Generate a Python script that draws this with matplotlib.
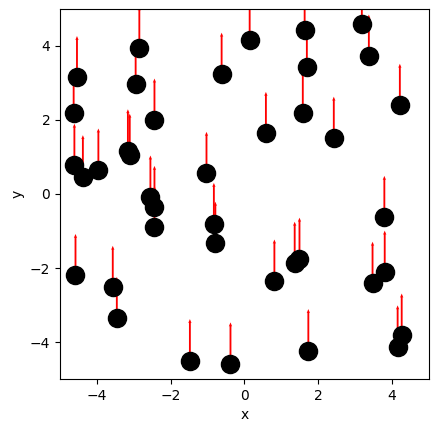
import numpy as np
import matplotlib
matplotlib.use("Agg")
import matplotlib.pyplot as plt

# point positions
x_pts = [-4.54, -4.63, -2.85, -2.95, -2.44, -4.61, -4.38, -3.96, -3.16, -3.11,
         -2.55, -2.44, -2.44, -1.03, -0.62, 0.14, 1.63, 1.69, 3.18, 3.37,
         1.58, 0.58, 2.42, 4.21, -0.83, -0.79, -4.58, -3.57, -3.46, -1.48,
         -0.38, 3.79, 0.81, 1.36, 1.49, 3.47, 3.80, 1.73, 4.15, 4.26]
y_pts = [3.15, 2.20, 3.95, 2.96, 2.00, 0.78, 0.47, 0.65, 1.17, 1.05,
         -0.08, -0.36, -0.90, 0.56, 3.24, 4.15, 4.43, 3.42, 4.59, 3.73,
         2.18, 1.64, 1.51, 2.40, -0.82, -1.33, -2.20, -2.52, -3.36, -4.50,
         -4.59, -0.63, -2.35, -1.87, -1.76, -2.41, -2.11, -4.23, -4.13, -3.81]
# every arrow points straight up
u_vals = [0.0] * len(x_pts)
v_vals = [1.12] * len(x_pts)

fig = plt.figure(figsize=(4.39, 4.32), dpi=100)
ax = fig.add_axes([60 / 439, 53 / 432, 369 / 439, 370 / 432])

ax.quiver(x_pts, y_pts, u_vals, v_vals, angles="xy", scale_units="xy", scale=1,
          color="r", width=0.005, headwidth=1.8, headlength=2.2,
          headaxislength=2.0, zorder=2)
ax.scatter(x_pts, y_pts, s=170, c="k", zorder=3)

ax.set_xlim(-5, 5)
ax.set_ylim(-5, 5)
ax.set_xticks([-4, -2, 0, 2, 4])
ax.set_yticks([-4, -2, 0, 2, 4])
ax.set_xlabel("x")
ax.set_ylabel("y")

fig.savefig("out.png", dpi=100)
